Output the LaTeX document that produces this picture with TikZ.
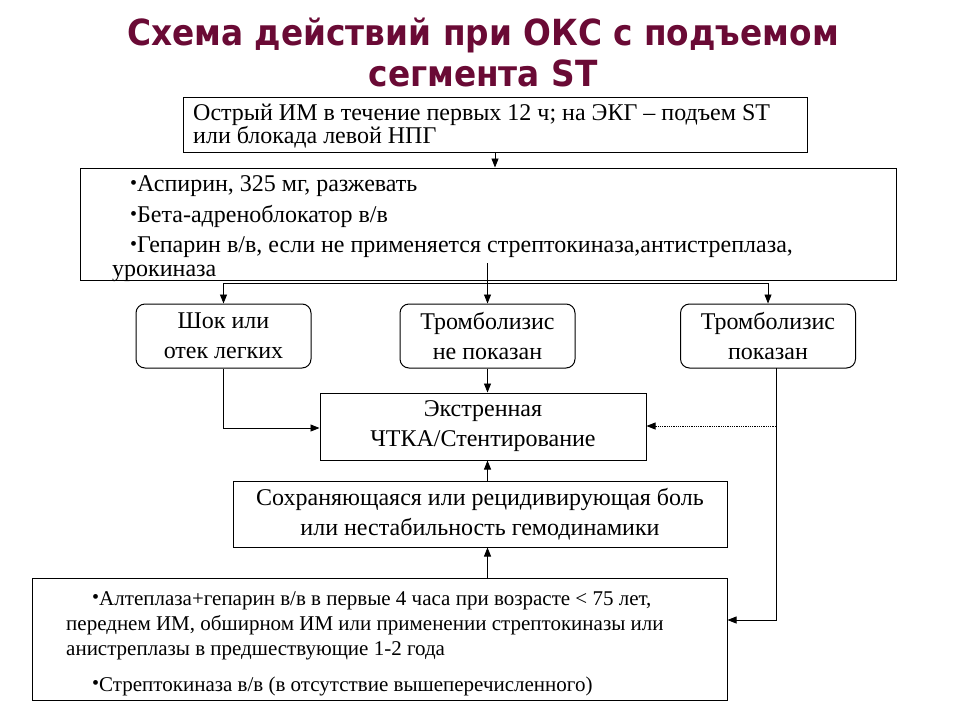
\documentclass[tikz,border=0pt]{standalone}
\usepackage{fontspec}
\setmainfont{Liberation Serif}
\newfontfamily\titlefont{DejaVu Sans}
\usetikzlibrary{arrows.meta}
\definecolor{titlecol}{HTML}{6A0A35}
\newcommand{\bul}[1]{\raisebox{#1}{\fontsize{20}{20}\selectfont•}}
\begin{document}
\begin{tikzpicture}[x=1pt,y=-1pt,
 box/.style={draw, line width=1pt, inner sep=0pt},
 rbox/.style={box, rounded corners=9pt, minimum width=175pt, minimum height=64pt},
 ltxt/.style={inner sep=0pt, anchor=base west, font=\fontsize{24}{28}\selectfont},
 stxt/.style={inner sep=0pt, anchor=base west, font=\fontsize{21}{24}\selectfont},
 ctxt/.style={inner sep=0pt, align=center, font=\fontsize{24}{30}\selectfont},
 arr/.style={-{Triangle[length=9pt,width=7pt]}, line width=0.8pt},
 dotarr/.style={arr, densely dotted},
 ln/.style={line width=0.8pt}]
\useasboundingbox (0,0) rectangle (960,720);
\fill[white] (0,0) rectangle (960,720);

% title
\node[font=\titlefont\bfseries\fontsize{36}{40}\selectfont, text=titlecol, inner sep=0pt, anchor=base] (title) at (483,45) {\scalebox{0.91}[1]{\begin{tabular}[t]{@{}c@{}}Схема действий при ОКС с подъемом\\[1pt]сегмента ST\end{tabular}}};

% box 1
\node[box, minimum width=624pt, minimum height=55pt] (b1) at (495,124.5) {};
\node[ltxt] (b1a) at (193,120) {Острый ИМ в течение первых 12 ч; на ЭКГ – подъем ST};
\node[ltxt] (b1b) at (193,143) {или блокада левой НПГ};

% box 2
\node[box, minimum width=816pt, minimum height=112pt] (b2) at (488,224) {};
\node[ltxt] (b2a) at (130,191) {\bul{2pt}Аспирин, 325 мг, разжевать};
\node[ltxt] (b2b) at (130,222) {\bul{2pt}Бета-адреноблокатор в/в};
\node[ltxt] (b2c) at (130,252) {\bul{2pt}Гепарин в/в, если не применяется стрептокиназа,антистреплаза,};
\node[ltxt] (b2d) at (112,276) {урокиназа};

% three rounded boxes
\node[rbox] (sa) at (223.5,336) {};
\node[ctxt] (sat) at (sa) {Шок или\\отек легких};
\node[rbox] (sb) at (487.5,336) {};
\node[ctxt] (sbt) at (sb) {Тромболизис\\не показан};
\node[rbox] (sc) at (768,336) {};
\node[ctxt] (sct) at (sc) {Тромболизис\\показан};

% box D
\node[box, minimum width=326pt, minimum height=67pt] (bd) at (483,426.5) {};
\node[ctxt] (bdt) at (bd) {Экстренная\\ЧТКА/Стентирование};

% box E
\node[box, minimum width=494pt, minimum height=66pt] (be) at (480,514) {};
\node[ctxt] (bet) at (be) {Сохраняющаяся или рецидивирующая боль\\или нестабильность гемодинамики};

% box F
\node[box, minimum width=695pt, minimum height=122pt] (bf) at (379.5,639) {};
\node[stxt] (bfa) at (92,605) {\bul{1.5pt}Алтеплаза+гепарин в/в в первые 4 часа при возрасте < 75 лет,};
\node[stxt] (bfb) at (66,630) {переднем ИМ, обширном ИМ или применении стрептокиназы или};
\node[stxt] (bfc) at (66,655) {анистреплазы в предшествующие 1-2 года};
\node[stxt] (bfd) at (92,691) {\bul{1.5pt}Стрептокиназа в/в (в отсутствие вышеперечисленного)};

% connectors
\coordinate (stem) at (487.5,263);
\coordinate (hl) at (223.5,283);
\coordinate (hr) at (768,283);
\coordinate (cdown) at (776,368);
\coordinate (cdot) at (776,426);
\coordinate (cbot) at (776,620);
\coordinate (abend) at (223.5,428);

\draw[arr] (b1.south -| 495,0) -- (b2.north -| 495,0);
\draw[ln] (hl) -- (hr);
\draw[arr] (stem) -- (sb.north);
\draw[arr] (hl) -- (sa.north);
\draw[arr] (hr) -- (sc.north);
\draw[arr] (sb.south) -- (bd.north -| sb.south);
\draw[arr] (sa.south) -- (abend) -- (abend -| bd.west);
\draw[arr] (cdown) -- (cbot) -- (cbot -| bf.east);
\draw[dotarr] (cdot) -- (cdot -| bd.east);
\draw[arr] (bf.north -| 487.5,0) -- (be.south -| 487.5,0);
\draw[arr] (be.north -| 487.5,0) -- (bd.south -| 487.5,0);
\end{tikzpicture}
\end{document}
